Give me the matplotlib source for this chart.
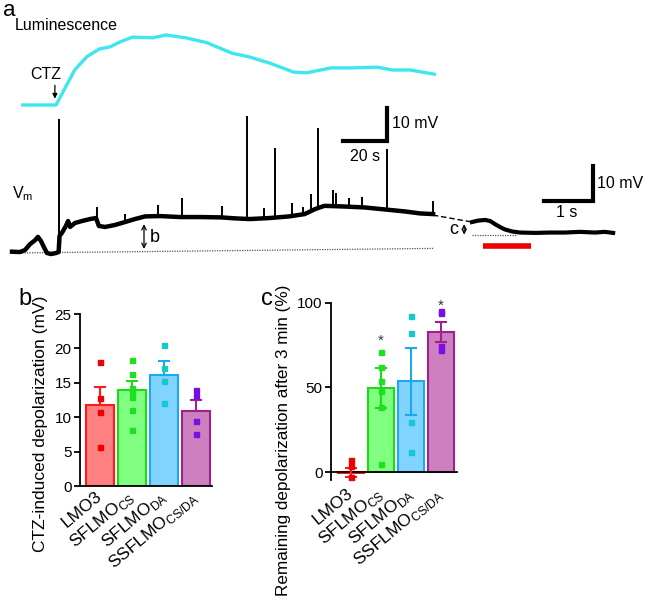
import numpy as np
import matplotlib
matplotlib.use("Agg")
import matplotlib.pyplot as plt

plt.rcParams['font.family'] = ['Liberation Sans', 'DejaVu Sans']

# ---- panel a: traces ----
# luminescence (normalised), time in s
lum_t = [4.9, 20, 28.5, 34, 39.7, 44.5, 49, 54.8, 64, 70, 79, 88.6, 100, 107.5,
         117, 128, 134, 145, 154.5, 166, 173, 181, 192]
lum_val = [0, 0, 0.5, 0.69, 0.8, 0.83, 0.9, 0.97, 0.96, 1.0, 0.96, 0.89, 0.74,
           0.69, 0.6, 0.47, 0.46, 0.53, 0.53, 0.54, 0.5, 0.5, 0.44]

# membrane potential (mV above resting), time in s
vm_t = [0, 3.6, 5.9, 8.2, 10.5, 11.8, 13.2, 14.5, 15.9, 17.7, 20, 21.2, 21.6,
        22.7, 24.5, 25.5, 26.4, 28.6, 31.8, 35.5, 38.2, 39.5, 42.3, 46.8, 51.4,
        55.9, 60.5, 67.3, 76.4, 85.5, 95, 101.4, 108, 117, 126, 133, 137.7,
        142, 151, 160.5, 169.5, 178.6, 185.5, 191.4]
vm_v = [0.3, 0.2, 0.8, 2.6, 3.8, 4.8, 3.5, 1.7, -0.1, -0.4, -0.1, 0.2, 5.1,
        6.0, 8.1, 9.6, 7.8, 9.0, 9.6, 10.2, 10.5, 8.1, 7.8, 8.4, 9.3,
        10.2, 11.0, 11.1, 10.8, 10.8, 10.7, 10.4, 10.2, 10.5, 11.0, 11.7, 13.2,
        14.2, 14.0, 13.7, 13.1, 12.5, 11.9, 11.7]

# spikes: time (s) and peak (mV)
spike_t = [21.2, 38.6, 51.4, 66.4, 77.3, 95.5, 106.8, 114.5, 119.5, 127.3,
           132.3, 135.9, 139.1, 145.9, 147.3, 153.2, 159, 170.5, 191.4]
spike_peak = [40.5, 13.8, 11.7, 14.5, 16.6, 14.2, 41.4, 13.5, 31.7, 15.0,
              13.8, 17.8, 37.8, 19.0, 18.0, 16.6, 16.9, 31.4, 15.7]

# zoomed trace after 3 min (s, mV above dotted level)
late_t = [0, 0.12, 0.27, 0.37, 0.47, 0.57, 0.67, 0.82, 0.98, 1.29, 1.59, 1.9,
          2.2, 2.51, 2.71, 2.88]
late_v = [3.7, 4.1, 4.3, 4.0, 3.1, 2.3, 1.6, 1.0, 0.7, 0.6, 0.7, 0.7, 0.9,
          0.7, 0.9, 0.6]

# ---- panels b, c ----
groups = ['LMO3', r'SFLMO$_\mathregular{CS}$', r'SFLMO$_\mathregular{DA}$',
          r'SSFLMO$_\mathregular{CS/DA}$']
fill_colors = ['#ff8080', '#80ff80', '#80d4ff', '#cc80c0']
edge_colors = ['#ff1a1a', '#1add1a', '#1aa8ee', '#a0208c']
dot_colors = ['#ee0000', '#22dd22', '#18c8c8', '#7a10e0']

b_mean = [11.75, 14.0, 16.2, 10.9]
b_sem = [2.6, 1.3, 1.9, 1.6]
b_points = [[18.0, 12.8, 10.7, 5.7],
            [18.3, 16.3, 14.2, 13.7, 12.9, 11.1, 8.1],
            [20.5, 17.2, 15.3, 12.1],
            [14.0, 13.1, 9.5, 7.6]]

c_mean = [-0.3, 49.7, 53.6, 82.8]
c_sem = [2.7, 11.6, 19.7, 6.0]
c_points = [[7.0, 3.5, -3.0],
            [71.0, 62.1, 53.8, 47.7, 38.5, 4.9],
            [92.1, 81.9, 29.6, 11.8],
            [95.0, 93.7, 74.6, 72.0]]
c_star = [None, 77.5, None, 98.0]

W, H = 649, 598
TOP = 280  # height of panel a in px

fig = plt.figure(figsize=(W / 100, H / 100), dpi=100)


def overlay(x0, y0, sx, sy):
    # invisible axes over panel a: data (0,0) sits at pixel (x0, y0),
    # sx / sy pixels per data unit
    ax = fig.add_axes([0, 1 - TOP / H, 1, TOP / H])
    ax.set_xlim(-x0 / sx, (W - x0) / sx)
    ax.set_ylim(-(TOP - y0) / sy, y0 / sy)
    ax.axis('off')
    return ax


ax_vm = overlay(12, 252.7, 2.2, 3.3)
ax_lum = overlay(12, 105, 2.2, 70)
ax_late = overlay(472, 235, 49, 3.5)

# luminescence
ax_lum.plot(lum_t, lum_val, color='#3ee6ee', lw=2.4, solid_joinstyle='round')
ax_lum.text(1.1, 1.13, 'Luminescence', fontsize=11.5, va='center', ha='left')
ax_lum.text(15.5, 0.44, 'CTZ', fontsize=11.5, ha='center', va='center')
ax_lum.annotate('', xy=(19.5, 0.05), xytext=(19.5, 0.32),
                arrowprops=dict(arrowstyle='-|>', color='black', lw=0.9,
                                mutation_scale=7))

# Vm trace
ax_vm.plot([0, 191.4], [-0.1, 1.3], color='#555555', lw=0.9, ls=(0, (1, 1)))
ax_vm.plot(vm_t, vm_v, color='black', lw=3.2, solid_joinstyle='round')
spike_base = np.interp(spike_t, vm_t, vm_v)
ax_vm.vlines(spike_t, spike_base, spike_peak, color='black', lw=1.4)
ax_vm.text(0, 18, r'V$_\mathregular{m}$', fontsize=11.5, ha='left', va='center')
ax_vm.annotate('', xy=(60, 0.3), xytext=(60, 9.5),
               arrowprops=dict(arrowstyle='<->', color='black', lw=0.9,
                               mutation_scale=8))
ax_vm.text(62.5, 4.6, 'b', fontsize=13, ha='left', va='center')
# scale bar 20 s / 10 mV
ax_vm.plot([150.5, 170.5, 170.5], [33.8, 33.8, 43.8], color='black', lw=3,
           solid_joinstyle='miter')
ax_vm.text(172.5, 39.3, '10 mV', fontsize=11.5, ha='left', va='center')
ax_vm.text(160.5, 29.3, '20 s', fontsize=11.5, ha='center', va='center')

# late trace
ax_late.plot([-0.8, 0], [5.7, 3.7], color='black', lw=1, ls=(0, (4, 2)))
ax_late.plot([0, 0.92], [0, 0], color='#555555', lw=0.9, ls=(0, (1, 1)))
ax_late.plot(late_t, late_v, color='black', lw=3, solid_joinstyle='round')
ax_late.annotate('', xy=(-0.16, -0.7), xytext=(-0.16, 3.9),
                 arrowprops=dict(arrowstyle='<->', color='black', lw=0.9,
                                 mutation_scale=7))
ax_late.text(-0.28, 1.7, 'c', fontsize=13, ha='right', va='center')
ax_late.plot([0.23, 1.21], [-3.0, -3.0], color='#ee0000', lw=4,
             solid_capstyle='butt')
ax_late.plot([1.47, 2.47, 2.47], [9.7, 9.7, 19.7], color='black', lw=3,
             solid_joinstyle='miter')
ax_late.text(2.56, 14.6, '10 mV', fontsize=11.5, ha='left', va='center')
ax_late.text(1.94, 6.5, '1 s', fontsize=11.5, ha='center', va='center')

fig.text(3 / W, 1 - 10 / H, 'a', fontsize=16, ha='left', va='center')


def bar_panel(ax, means, sems, points, two_sided, label_pad):
    x = np.arange(len(means))
    if two_sided:
        ax.spines['bottom'].set_position(('data', 0))
    ax.bar(x, means, width=0.88, color=fill_colors, edgecolor=edge_colors,
           linewidth=1.5, zorder=2)
    for i in range(len(means)):
        lo = sems[i] if two_sided else 0
        ax.errorbar(x[i], means[i], yerr=[[lo], [sems[i]]], color=edge_colors[i],
                    lw=1.5, capsize=4, capthick=1.5, zorder=3)
        ax.plot([x[i]] * len(points[i]), points[i], 's', ms=3.6,
                color=dot_colors[i], zorder=4)
    for s in ['top', 'right']:
        ax.spines[s].set_visible(False)
    for s in ['left', 'bottom']:
        ax.spines[s].set_linewidth(1.3)
    ax.set_xticks(x)
    ax.set_xticklabels(groups, rotation=40, ha='right', va='center',
                       rotation_mode='anchor', fontsize=12.5)
    ax.tick_params(axis='x', length=0, pad=label_pad)
    ax.tick_params(axis='y', length=4, width=1.3, labelsize=11, pad=2)


# panel b
ax_b = fig.add_axes([80 / W, 1 - 486 / H, 132 / W, 172 / H])
bar_panel(ax_b, b_mean, b_sem, b_points, False, 6)
ax_b.set_xlim(-0.62, 3.5)
ax_b.set_ylim(0, 25)
ax_b.set_yticks([0, 5, 10, 15, 20, 25])
ax_b.set_ylabel('CTZ-induced depolarization (mV)', fontsize=12.5)
ax_b.yaxis.set_label_coords(-0.245, 0.36)
fig.text(18 / W, 1 - 299 / H, 'b', fontsize=17, ha='left', va='center')

# panel c
ax_c = fig.add_axes([331 / W, 1 - 480.5 / H, 125.7 / W, 177.8 / H])
bar_panel(ax_c, c_mean, c_sem, c_points, True, 14)
ax_c.set_xlim(-0.67, 3.52)
ax_c.set_ylim(-5, 100)
ax_c.set_yticks([0, 50, 100])
for i, s in enumerate(c_star):
    if s is not None:
        ax_c.text(i, s, '*', fontsize=11, ha='center', va='center',
                  color='#333333')
ax_c.set_ylabel('Remaining depolarization after 3 min (%)', fontsize=12.3)
ax_c.yaxis.set_label_coords(-0.315, 0.225)
fig.text(261 / W, 1 - 299 / H, 'c', fontsize=17, ha='left', va='center')

fig.savefig('out.png', dpi=100)
